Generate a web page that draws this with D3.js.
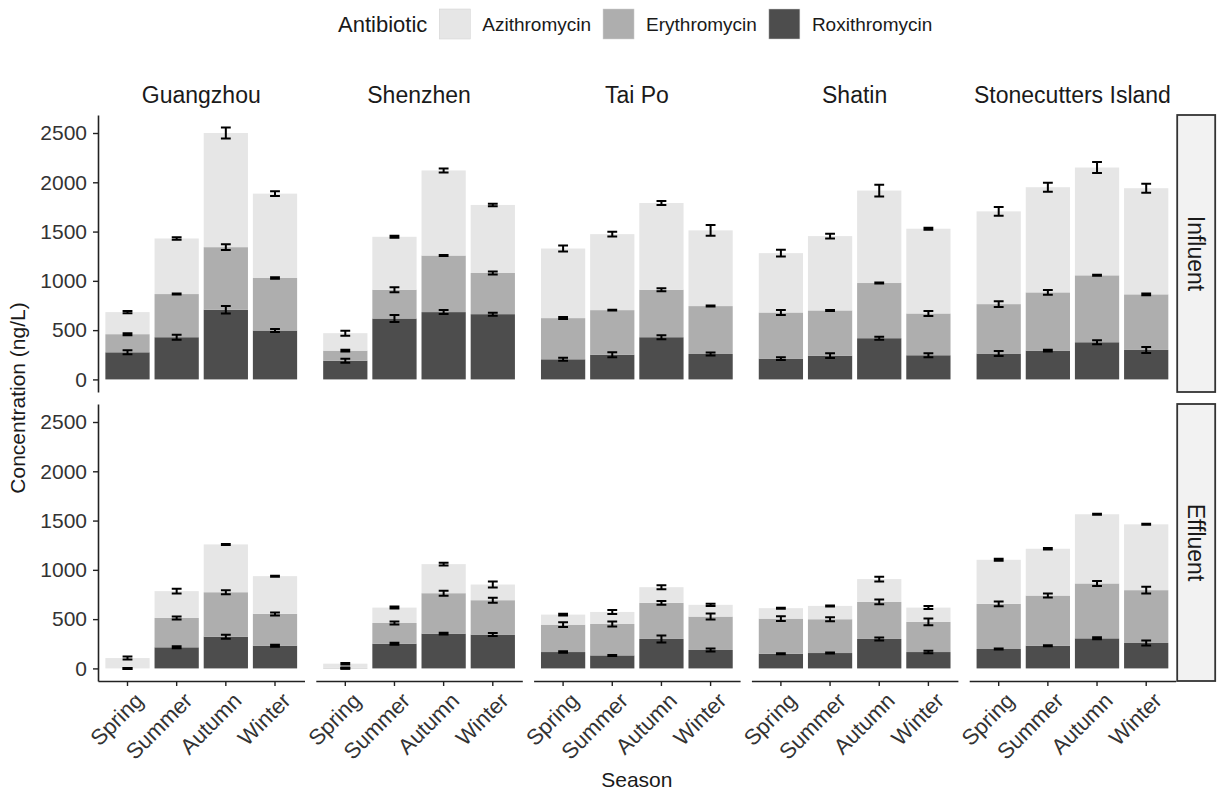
<!DOCTYPE html>
<html>
<head>
<meta charset="utf-8">
<script src="https://cdn.jsdelivr.net/npm/d3@7"></script>
<style>
body { margin: 0; background: #fff; }
text { font-family: "Liberation Sans", Arial, sans-serif; fill: #1a1a1a; }
</style>
</head>
<body>
<div id="chart"></div>
<script>
// ---- data (ng/L) ----
var sites = ["Guangzhou", "Shenzhen", "Tai Po", "Shatin", "Stonecutters Island"];
var seasons = ["Spring", "Summer", "Autumn", "Winter"];
var antibiotics = ["Azithromycin", "Erythromycin", "Roxithromycin"];
var stackOrder = ["Roxithromycin", "Erythromycin", "Azithromycin"];   // bottom -> top
var treatments = ["Influent", "Effluent"];
var yTicks = [0, 500, 1000, 1500, 2000, 2500];

// one row per site, columns = seasons
var influentRox = [[275, 428, 707, 496], [190, 618, 683, 662], [204, 251, 428, 258], [211, 241, 418, 245], [262, 292, 377, 299]];
var influentEry = [[184, 438, 635, 533], [102, 292, 574, 418], [418, 452, 482, 486], [468, 459, 560, 424], [502, 591, 679, 564]];
var influentAzi = [[224, 564, 1158, 856], [177, 537, 863, 690], [706, 771, 880, 768], [602, 754, 938, 860], [941, 1067, 1094, 1077]];
var influentRoxSd = [[20, 25, 38, 15], [20, 35, 20, 15], [15, 25, 20, 15], [15, 25, 15, 20], [25, 10, 20, 30]];
var influentErySd = [[10, 5, 30, 8], [8, 25, 5, 15], [10, 5, 15, 5], [25, 5, 5, 25], [30, 25, 5, 8]];
var influentAziSd = [[12, 12, 55, 25], [25, 10, 20, 12], [30, 25, 20, 55], [35, 25, 60, 10], [45, 45, 55, 45]];

var effluentRox = [[0, 214, 322, 231], [0, 251, 353, 343], [166, 132, 299, 187], [149, 156, 299, 166], [197, 231, 305, 258]];
var effluentEry = [[0, 298, 451, 322], [5, 210, 410, 349], [278, 319, 366, 339], [356, 343, 376, 306], [458, 508, 557, 536]];
var effluentAzi = [[105, 272, 485, 383], [43, 156, 295, 159], [102, 122, 159, 119], [106, 135, 231, 145], [447, 475, 702, 668]];
var effluentRoxSd = [[5, 10, 20, 10], [4, 10, 8, 15], [8, 5, 35, 15], [5, 5, 15, 12], [5, 5, 10, 25]];
var effluentErySd = [[5, 15, 20, 15], [5, 15, 25, 25], [25, 25, 20, 30], [25, 20, 25, 35], [25, 20, 25, 35]];
var effluentAziSd = [[15, 25, 5, 5], [8, 10, 15, 30], [8, 20, 20, 12], [5, 5, 25, 15], [10, 8, 5, 5]];

var colors = { "Azithromycin": "#e6e6e6", "Erythromycin": "#aeaeae", "Roxithromycin": "#4d4d4d" };

// build per-treatment tables
function buildRows(rox, ery, azi, roxSd, erySd, aziSd) {
    var out = [];
    sites.forEach(function (s, si) {
        seasons.forEach(function (se, j) {
            out.push({
                site: s, season: se,
                Roxithromycin: rox[si][j], Erythromycin: ery[si][j], Azithromycin: azi[si][j],
                sd: { Roxithromycin: roxSd[si][j], Erythromycin: erySd[si][j], Azithromycin: aziSd[si][j] }
            });
        });
    });
    return out;
}
var tables = {
    "Influent": buildRows(influentRox, influentEry, influentAzi, influentRoxSd, influentErySd, influentAziSd),
    "Effluent": buildRows(effluentRox, effluentEry, effluentAzi, effluentRoxSd, effluentErySd, effluentAziSd)
};

// ---- layout ----
var width = 1218, height = 792;
var panelLeft = 98, panelW = 206.5, gapX = 11.3;
var panelTop = 115, panelH = 277, gapY = 12;

var svg = d3.select("#chart").append("svg").attr("width", width).attr("height", height);

var x = d3.scaleBand().domain(seasons).range([0, panelW]).paddingInner(0.1).paddingOuter(0.15);

// shared y scale, ggplot-like 5% expansion
var yMax = 0;
treatments.forEach(function (t) {
    tables[t].forEach(function (d) {
        var tot = d.Roxithromycin + d.Erythromycin + d.Azithromycin;
        yMax = Math.max(yMax, tot + d.sd.Azithromycin);
    });
});
var y = d3.scaleLinear().domain([-0.05 * yMax, 1.05 * yMax]).range([panelH, 0]);

var stack = d3.stack().keys(stackOrder);

treatments.forEach(function (t, r) {
    var py = panelTop + r * (panelH + gapY);

    sites.forEach(function (s, c) {
        var px = panelLeft + c * (panelW + gapX);
        var g = svg.append("g").attr("transform", "translate(" + px + "," + py + ")");
        var rows = tables[t].filter(function (d) { return d.site == s; });
        var layers = stack(rows);

        g.selectAll("g.layer").data(layers).enter().append("g")
            .attr("class", "layer")
            .attr("fill", function (l) { return colors[l.key]; })
            .selectAll("rect").data(function (l) { return l; }).enter().append("rect")
            .attr("x", function (d) { return x(d.data.season); })
            .attr("width", x.bandwidth())
            .attr("y", function (d) { return y(d[1]); })
            .attr("height", function (d) { return y(d[0]) - y(d[1]); });

        // error bars at the top of each layer
        var cap = x.step() * 0.2;
        layers.forEach(function (l) {
            var eb = g.append("g").attr("stroke", "#000").attr("stroke-width", 2).attr("fill", "none");
            l.forEach(function (d) {
                var cx = x(d.data.season) + x.bandwidth() / 2;
                var sd = d.data.sd[l.key];
                var lo = y(d[1] - sd), hi = y(d[1] + sd);
                eb.append("path")
                    .attr("d", "M" + (cx - cap / 2) + "," + hi + "H" + (cx + cap / 2) +
                        "M" + cx + "," + hi + "V" + lo +
                        "M" + (cx - cap / 2) + "," + lo + "H" + (cx + cap / 2));
            });
        });

        // y axis on the first column
        if (c == 0) {
            var ya = g.append("g").call(d3.axisLeft(y).tickValues(yTicks).tickFormat(d3.format("d"))
                .tickSize(5).tickSizeOuter(0).tickPadding(6));
            ya.selectAll("text").attr("font-size", "21px").style("fill", "#333");
            ya.select(".domain").attr("stroke", "#222").attr("stroke-width", 1.6);
            ya.selectAll(".tick line").attr("stroke", "#222").attr("stroke-width", 1.4);
        }

        // x axis on bottom row
        if (r == treatments.length - 1) {
            var xa = g.append("g").attr("transform", "translate(0," + panelH + ")")
                .call(d3.axisBottom(x).tickSize(5).tickSizeOuter(0));
            xa.select(".domain").attr("stroke", "#222").attr("stroke-width", 1.6);
            xa.selectAll(".tick line").attr("stroke", "#222").attr("stroke-width", 1.4);
            xa.selectAll("text")
                .attr("font-size", "22px").style("fill", "#333")
                .attr("text-anchor", "end")
                .attr("x", 0).attr("y", 0).attr("dy", "0.71em")
                .attr("transform", "translate(6,10) rotate(-45)");
        }

        // column titles
        if (r == 0) {
            svg.append("text").attr("x", px + panelW / 2).attr("y", 103)
                .attr("text-anchor", "middle").attr("font-size", "23px").text(s);
        }
    });

    // row strip on the right
    var sx = panelLeft + 5 * panelW + 4 * gapX + 1.5;
    svg.append("rect").attr("x", sx).attr("y", py).attr("width", 38).attr("height", panelH)
        .attr("fill", "#f2f2f2").attr("stroke", "#333").attr("stroke-width", 1.8);
    svg.append("text")
        .attr("transform", "translate(" + (sx + 19) + "," + (py + panelH / 2) + ") rotate(90)")
        .attr("text-anchor", "middle").attr("dy", "0.35em").attr("font-size", "23px").text(t);
});

// axis titles
svg.append("text").attr("x", panelLeft + (5 * panelW + 4 * gapX) / 2).attr("y", 787)
    .attr("text-anchor", "middle").attr("font-size", "21px").text("Season");
svg.append("text").attr("transform", "translate(25," + (panelTop + panelH + gapY / 2) + ") rotate(-90)")
    .attr("text-anchor", "middle").attr("font-size", "21px").text("Concentration (ng/L)");

// legend
var leg = svg.append("g");
var lt = leg.append("text").attr("x", 338).attr("y", 32).attr("font-size", "22px").text("Antibiotic");
var lx = 338 + lt.node().getComputedTextLength() + 12;
antibiotics.forEach(function (a) {
    leg.append("rect").attr("x", lx).attr("y", 9).attr("width", 31).attr("height", 30)
        .attr("fill", colors[a]).attr("stroke", "#d0d0d0").attr("stroke-width", 0.5);
    var tx = leg.append("text").attr("x", lx + 43).attr("y", 31).attr("font-size", "19px").text(a);
    lx = lx + 43 + tx.node().getComputedTextLength() + 12;
});
</script>
</body>
</html>
